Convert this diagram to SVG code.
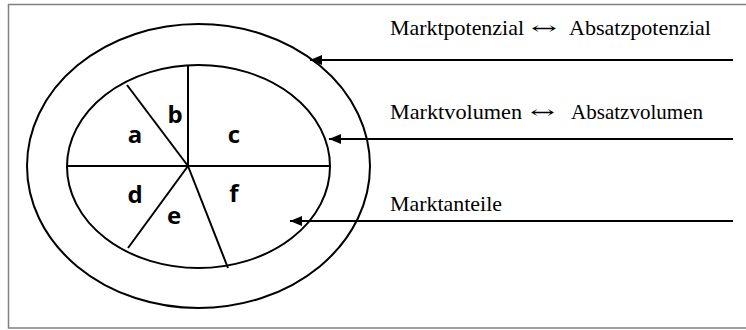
<svg xmlns="http://www.w3.org/2000/svg" width="746" height="330" viewBox="0 0 746 330">
<style>
.sh{fill:none;stroke:#000;stroke-width:2}
.cn{stroke:#000;stroke-width:2;fill:none}
.lb{font-family:"Open Sans","Noto Sans",sans-serif;font-weight:bold;font-size:24px;fill:#000;text-anchor:middle}
.tx{font-family:"Liberation Serif","Times New Roman",serif;font-size:21px;fill:#000}
.ar{font-family:"DejaVu Serif",serif;font-size:17px;fill:#000}
</style>
<defs>
<marker id="ah" viewBox="0 0 12 10" refX="12" refY="5" markerWidth="12" markerHeight="10" markerUnits="userSpaceOnUse" orient="auto">
<path d="M0,0 L12,5 L0,10 Z" fill="#000"/>
</marker>
</defs>
<rect x="8.5" y="4.5" width="760" height="323.5" fill="#fff" stroke="#808080" stroke-width="1.5"/>
<g id="outer"><ellipse class="sh" cx="198.5" cy="166" rx="171.5" ry="142"/></g>
<g id="inner">
<ellipse class="sh" cx="198.5" cy="166.5" rx="131.5" ry="101.5"/>
<line class="sh" x1="67" y1="166" x2="330" y2="166"/>
<line class="sh" x1="188" y1="166" x2="188" y2="65.5"/>
<line class="sh" x1="188" y1="166" x2="127" y2="85"/>
<line class="sh" x1="188" y1="166" x2="128" y2="248"/>
<line class="sh" x1="188" y1="166" x2="228" y2="268"/>
</g>
<g id="seg-a"><text class="lb" x="135" y="143">a</text></g>
<g id="seg-b"><text class="lb" x="175" y="123">b</text></g>
<g id="seg-c"><text class="lb" x="234" y="143">c</text></g>
<g id="seg-d"><text class="lb" x="135" y="203">d</text></g>
<g id="seg-e"><text class="lb" x="174" y="224">e</text></g>
<g id="seg-f"><text class="lb" x="234" y="202">f</text></g>
<g id="label1">
<text class="tx" x="390" y="35" textLength="134" lengthAdjust="spacingAndGlyphs">Marktpotenzial</text>
<text class="ar" x="531" y="34" textLength="26" lengthAdjust="spacingAndGlyphs">↔</text>
<text class="tx" x="569" y="35" textLength="142" lengthAdjust="spacingAndGlyphs">Absatzpotenzial</text>
</g>
<g id="label2">
<text class="tx" x="390" y="119" textLength="132" lengthAdjust="spacingAndGlyphs">Marktvolumen</text>
<text class="ar" x="530" y="118" textLength="25" lengthAdjust="spacingAndGlyphs">↔</text>
<text class="tx" x="571" y="119" textLength="132" lengthAdjust="spacingAndGlyphs">Absatzvolumen</text>
</g>
<g id="label3"><text class="tx" x="390" y="211" textLength="112" lengthAdjust="spacingAndGlyphs">Marktanteile</text></g>
<g id="connectors">
<line class="cn" x1="733" y1="60" x2="310" y2="60" marker-end="url(#ah)"/>
<line class="cn" x1="733" y1="139" x2="329" y2="139" marker-end="url(#ah)"/>
<line class="cn" x1="733" y1="221" x2="290" y2="221" marker-end="url(#ah)"/>
</g>
</svg>
